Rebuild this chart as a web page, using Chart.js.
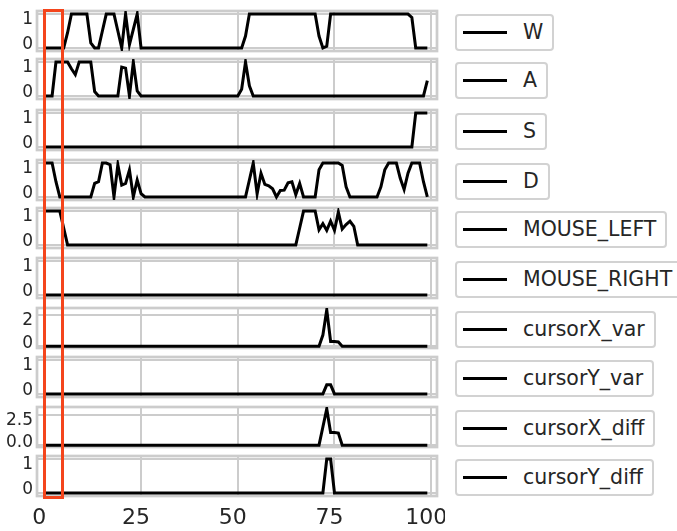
<!DOCTYPE html>
<html>
<head>
<meta charset="utf-8">
<script src="https://cdn.jsdelivr.net/npm/chart.js@4.4.1/dist/chart.umd.min.js"></script>
<style>
  body { margin: 0; background: #fff; width: 677px; height: 531px; overflow: hidden; position: relative; font-family: "DejaVu Sans", sans-serif; }
  .panel { position: absolute; left: 0; }
  .legend { position: absolute; left: 455px; height: 37px; box-sizing: border-box; border: 2px solid #d2d2d2; border-radius: 4px; background: #fff; white-space: nowrap; }
  .legend .swatch { position: absolute; left: 6px; top: 50%; width: 44px; height: 3px; margin-top: -1.5px; background: #000; }
  .legend .label { display: block; margin-left: 66px; padding-right: 9px; line-height: 33px; font-size: 20.5px; color: #262626; }
  #highlight { position: absolute; box-sizing: border-box; border: 3px solid #f4451c; }
</style>
</head>
<body>
<div id="highlight"></div>
<script>
// series as [frame, value] breakpoints
const names = ["W", "A", "S", "D", "MOUSE_LEFT", "MOUSE_RIGHT", "cursorX_var", "cursorY_var", "cursorX_diff", "cursorY_diff"];

const W = [[0,0],[5,0],[6,0.45],[7,1],[11,1],[12,0.15],[13,0],[14,0],[15,0.5],[16,1],[18,1],[19,0.5],[20,0],[21,1],[22,0.1],[23,0.55],[24,1],[25,0],[51,0],[52,0.35],[53,1],[70,1],[71,0.35],[72,0],[73,0.05],[74,1],[94,1],[95,0.9],[96,0],[99,0]];
const A = [[0,0],[2,0],[3,1],[6,1],[7,0.8],[8,0.63],[9,1],[12,1],[13,0.13],[14,0],[19,0],[20,0.85],[21,0.82],[22,0],[23,1],[24,0.15],[25,0],[50,0],[51,0.2],[52,1],[53,0.3],[54,0],[98,0],[99,0.45]];
const S = [[0,0],[95,0],[96,1],[99,1]];
const D = [[0,1],[2,1],[3,0.45],[4,0],[12,0],[13,0.4],[14,0.45],[15,1],[16,1],[17,0.95],[18,0],[19,0.95],[20,0.35],[21,0.4],[22,0.8],[23,0],[24,0.5],[25,0.1],[26,0],
           [52,0],[53,0.5],[54,1],[55,0.09],[56,0.7],[57,0.37],[58,0.33],[59,0.24],[60,0],[61,0.19],[62,0.2],[63,0.42],[64,0.45],[65,0.07],[66,0.4],[67,0],
           [70,0],[71,0.8],[72,1],[76,1],[77,0.93],[78,0.3],[79,0],[86,0],[87,0.3],[88,0.8],[89,1],[91,1],[92,0.55],[93,0.22],[94,0.7],[95,1],[97,1],[98,0.45],[99,0]];
const MOUSE_LEFT = [[0,1],[4,1],[5,0.5],[6,0],[65,0],[66,0.5],[67,1],[70,1],[71,0.45],[72,0.63],[73,0.43],[74,0.7],[75,0.43],[76,0.97],[77,0.47],[78,0.6],[79,0.7],[80,0.55],[81,0],[99,0]];
const MOUSE_RIGHT = [[0,0],[99,0]];
const cursorX_var = [[0,0],[71,0],[72,0.7],[73,2.3],[74,0.3],[75,0.3],[76,0.27],[77,0],[99,0]];
const cursorY_var = [[0,0],[72,0],[73,0.27],[74,0.27],[75,0],[99,0]];
const cursorX_diff = [[0,0],[71,0],[72,1.5],[73,3.0],[74,1.05],[75,1.05],[76,1.0],[77,0],[99,0]];
const cursorY_diff = [[0,0],[72,0],[73,1],[74,1],[75,0],[99,0]];

const series = [W, A, S, D, MOUSE_LEFT, MOUSE_RIGHT, cursorX_var, cursorY_var, cursorX_diff, cursorY_diff];

// axes
const xTicks = [0, 25, 50, 75, 100];
const xRange = [-1.9, 101.5];
const yTicks = [[0,1],[0,1],[0,1],[0,1],[0,1],[0,1],[0,2],[0,1],[0,2.5],[0,1]];
const yTickLabels = [["0","1"],["0","1"],["0","1"],["0","1"],["0","1"],["0","1"],["0","2"],["0","1"],["0.0","2.5"],["0","1"]];
const yRanges = [[-0.09,1.09],[-0.09,1.09],[-0.09,1.09],[-0.09,1.09],[-0.09,1.09],[-0.09,1.09],[-0.115,2.415],[-0.09,1.09],[-0.15,3.15],[-0.09,1.09]];
const highlight = [0, 4.8];

// layout
const panelTops = [11, 59, 110, 160, 208, 258, 308, 357, 407, 456];
const panelHeight = 40;
const pad = 4;
const axisWidth = 37;
const canvasWidth = 445;
const gray = "#cccccc";
const textColor = "#262626";

const framePlugin = {
  id: "frame",
  beforeDatasetsDraw(chart) {
    const a = chart.chartArea;
    const ctx = chart.ctx;
    ctx.save();
    ctx.strokeStyle = gray;
    ctx.lineWidth = 2.7;
    ctx.strokeRect(a.left, a.top, a.right - a.left, a.bottom - a.top);
    ctx.restore();
  }
};

const charts = [];
names.forEach((name, k) => {
  const last = k === names.length - 1;
  const xAxisH = last ? 32 : 0;
  const canvas = document.createElement("canvas");
  canvas.className = "panel";
  canvas.width = canvasWidth;
  canvas.height = pad + panelHeight + xAxisH + pad;
  canvas.style.top = (panelTops[k] - pad) + "px";
  document.body.appendChild(canvas);

  charts.push(new Chart(canvas, {
    type: "line",
    data: {
      datasets: [{
        label: name,
        data: series[k].map(p => ({ x: p[0], y: p[1] })),
        borderColor: "#000",
        borderWidth: 3,
        pointRadius: 0,
        tension: 0,
        fill: false
      }]
    },
    options: {
      animation: false,
      responsive: false,
      devicePixelRatio: 1,
      layout: { padding: { top: pad, bottom: pad, left: 0, right: canvasWidth - 437 } },
      plugins: { legend: { display: false }, tooltip: { enabled: false } },
      scales: {
        x: {
          type: "linear",
          min: xRange[0],
          max: xRange[1],
          afterBuildTicks: s => { s.ticks = xTicks.map(v => ({ value: v })); },
          afterFit: s => { s.height = xAxisH; s.paddingLeft = 0; s.paddingRight = 0; },
          grid: { color: gray, lineWidth: 2, drawTicks: false },
          border: { display: false },
          ticks: {
            display: last,
            autoSkip: false,
            padding: 9,
            labelOffset: -5,
            maxRotation: 0,
            color: textColor,
            font: { family: "DejaVu Sans", size: 22 },
            callback: v => String(v)
          }
        },
        y: {
          type: "linear",
          min: yRanges[k][0],
          max: yRanges[k][1],
          afterBuildTicks: s => { s.ticks = yTicks[k].map(v => ({ value: v })); },
          afterFit: s => { s.width = axisWidth; s.paddingTop = 0; s.paddingBottom = 0; },
          grid: { color: gray, lineWidth: 2, drawTicks: false },
          border: { display: false },
          ticks: {
            autoSkip: false,
            padding: 4,
            color: textColor,
            font: ctx => ({ family: "DejaVu Sans", size: 17, lineHeight: ctx.index === 1 ? "12px" : "6px" }),
            callback: (v, i) => i === 1 ? ["", yTickLabels[k][1]] : [yTickLabels[k][0], ""]
          }
        }
      }
    },
    plugins: [framePlugin]
  }));

  // legend box, one per panel
  const lg = document.createElement("div");
  lg.className = "legend";
  lg.style.top = (panelTops[k] + panelHeight / 2 + 1 - 18.5) + "px";
  lg.innerHTML = '<span class="swatch"></span><span class="label"></span>';
  lg.querySelector(".label").textContent = name;
  document.body.appendChild(lg);
});

// highlighted frame window, placed through the x scale
const xs = charts[charts.length - 1].scales.x;
const hl = document.getElementById("highlight");
const left = xs.getPixelForValue(highlight[0]);
const right = xs.getPixelForValue(highlight[1]);
hl.style.left = (left - 1.5) + "px";
hl.style.width = (right - left + 3) + "px";
hl.style.top = (panelTops[0] - 2) + "px";
hl.style.height = (panelTops[panelTops.length - 1] + panelHeight - panelTops[0] + 5) + "px";
document.body.appendChild(hl);
</script>
</body>
</html>
